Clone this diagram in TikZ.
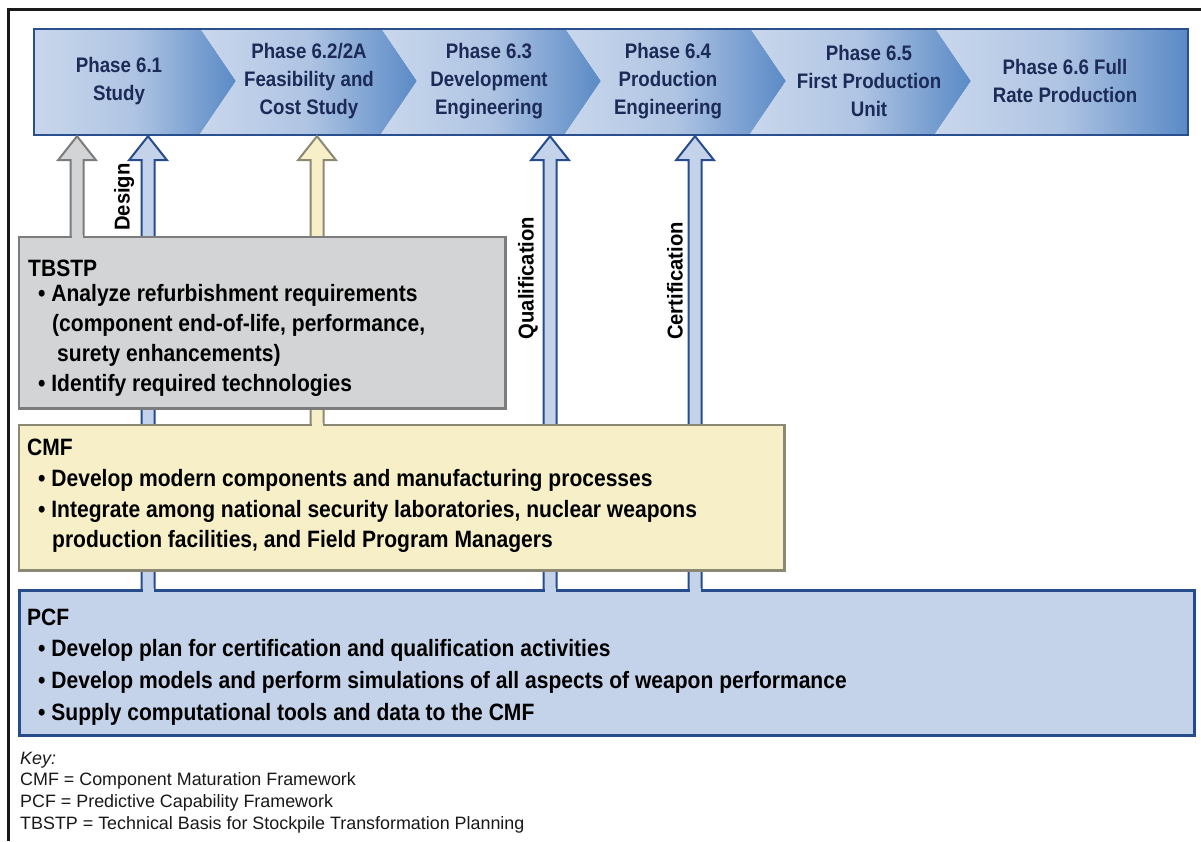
\documentclass[tikz,border=0pt]{standalone}
\usepackage{fontspec}
\setmainfont{Liberation Sans}
\newfontfamily\condf[FakeStretch=0.89]{Liberation Sans}
\newfontfamily\labf[FakeStretch=0.94]{Liberation Sans}
\usetikzlibrary{calc}
\definecolor{cL}{HTML}{C9D7EC}
\definecolor{cM}{HTML}{AFC4E3}
\definecolor{cD}{HTML}{5A8AC6}
\definecolor{barB}{HTML}{2A4F8E}
\definecolor{phT}{HTML}{1C2A57}
\definecolor{blF}{HTML}{C5D3EA}
\definecolor{blD}{HTML}{264C8C}
\definecolor{grF}{HTML}{D3D4D6}
\definecolor{grD}{HTML}{7C7C7C}
\definecolor{yeF}{HTML}{F6EFC7}
\definecolor{yeD}{HTML}{8B8974}
\newcommand\blockarrow[5]{%
 \fill[#4] let \p1=(#1 |- #2), \p2=(#1 |- #3) in
   (\x1-6.5pt,\y2) -- (\x1-6.5pt,\y1-24pt) -- (\x1-19pt,\y1-24pt) -- (\x1,\y1) -- (\x1+19pt,\y1-24pt) -- (\x1+6.5pt,\y1-24pt) -- (\x1+6.5pt,\y2) -- cycle;
 \draw[#5,line width=2pt] let \p1=(#1 |- #2), \p2=(#1 |- #3) in
   (\x1-6.5pt,\y2) -- (\x1-6.5pt,\y1-24pt) -- (\x1-19pt,\y1-24pt) -- (\x1,\y1) -- (\x1+19pt,\y1-24pt) -- (\x1+6.5pt,\y1-24pt) -- (\x1+6.5pt,\y2);
}
\newcommand\shaftpatch[3]{\fill[#3] let \p1=(#1 |- #2) in (\x1-5.5pt,\y1+2pt) rectangle (\x1+5.5pt,\y1-3pt);}
\tikzset{
 chev/.style={left color=cL, right color=cD, middle color=cM, draw=none},
 phase/.style={align=center, inner sep=0pt, text=phT, font=\condf\bfseries\fontsize{21}{28}\selectfont},
 boxnode/.style={anchor=north west, inner sep=0pt, line width=2.5pt},
 bt/.style={anchor=base west, inner sep=0pt, text=black, font=\condf\bfseries\fontsize{23.65}{28}\selectfont},
 lab/.style={rotate=90, inner sep=0pt, text=black, font=\labf\bfseries\fontsize{21.5}{26}\selectfont},
 keyt/.style={anchor=base west, inner sep=0pt, text=black!90, font=\fontsize{17.9}{20}\selectfont},
}
\begin{document}
\begin{tikzpicture}[x=1pt,y=-1pt]
\useasboundingbox (0,0) rectangle (1201,841);
\fill[white] (0,0) rectangle (1201,841);
% outer frame
\draw[line width=3pt, black!90] (8,841) -- (8,9) -- (1201,9);
% phase bar chevrons
\path[chev] (33,28) -- (200,28) -- (236,81) -- (200,134) -- (33,134) -- cycle;
\path[chev] (200,28) -- (381,28) -- (417,81) -- (381,134) -- (200,134) -- (236,81) -- cycle;
\path[chev] (381,28) -- (565,28) -- (601,81) -- (565,134) -- (381,134) -- (417,81) -- cycle;
\path[chev] (565,28) -- (750,28) -- (786,81) -- (750,134) -- (565,134) -- (601,81) -- cycle;
\path[chev] (750,28) -- (935,28) -- (971,81) -- (935,134) -- (750,134) -- (786,81) -- cycle;
\path[chev] (935,28) -- (1187,28) -- (1187,134) -- (935,134) -- (971,81) -- cycle;
\node[draw=barB, line width=2.2pt, inner sep=0pt, minimum width=1154pt, minimum height=106pt, anchor=north west] (bar) at (33,28) {};
\node[phase] (p1) at (119,81) {Phase 6.1\\Study};
\node[phase] (p2) at (309,81) {Phase 6.2/2A\\Feasibility and\\Cost Study};
\node[phase] (p3) at (489,81) {Phase 6.3\\Development\\Engineering};
\node[phase] (p4) at (668,81) {Phase 6.4\\Production\\Engineering};
\node[phase] (p5) at (869,81) {Phase 6.5\\First Production\\Unit};
\node[phase] (p6) at (1065,81) {Phase 6.6 Full\\Rate Production};
% boxes (positions)
\path (19,237) node[boxnode, minimum width=484pt, minimum height=169pt] (tb) {};
\path (19,425) node[boxnode, minimum width=763pt, minimum height=143pt] (cmf) {};
\path (19,590) node[boxnode, minimum width=1173pt, minimum height=143pt] (pcf) {};
% arrow x positions
\coordinate (xg) at (77,0);
\coordinate (xd) at (148,0);
\coordinate (xy) at (317,0);
\coordinate (xq) at (550,0);
\coordinate (xc) at (695,0);
% arrows
\blockarrow{xg}{bar.south}{tb.north}{grF}{grD}
\blockarrow{xd}{bar.south}{pcf.north}{blF}{blD}
\blockarrow{xy}{bar.south}{cmf.north}{yeF}{yeD}
\blockarrow{xq}{bar.south}{pcf.north}{blF}{blD}
\blockarrow{xc}{bar.south}{pcf.north}{blF}{blD}
% boxes drawn
\draw[fill=grF, draw=grD, line width=2.5pt] (tb.north west) rectangle (tb.south east);
\draw[fill=yeF, draw=yeD, line width=2.5pt] (cmf.north west) rectangle (cmf.south east);
\draw[fill=blF, draw=blD, line width=3pt] (pcf.north west) rectangle (pcf.south east);
\shaftpatch{xg}{tb.north}{grF}
\shaftpatch{xy}{cmf.north}{yeF}
\shaftpatch{xd}{pcf.north}{blF}
\shaftpatch{xq}{pcf.north}{blF}
\shaftpatch{xc}{pcf.north}{blF}
% labels
\node[lab] (ld) at (124,197) {Design};
\node[lab] (lq) at (528,278) {Qualification};
\node[lab] (lc) at (675,281) {Certification};
% TBSTP text
\node[bt] (t0) at (28,276) {TBSTP};
\node[bt] (t1) at (38,301) {• Analyze refurbishment requirements};
\node[bt] (t2) at (52,331) {(component end-of-life, performance,};
\node[bt] (t3) at (57,361) {surety enhancements)};
\node[bt] (t4) at (38,391) {• Identify required technologies};
% CMF text
\node[bt] (c0) at (27,455) {CMF};
\node[bt] (c1) at (38,486) {• Develop modern components and manufacturing processes};
\node[bt] (c2) at (38,517) {• Integrate among national security laboratories, nuclear weapons};
\node[bt] (c3) at (52,547) {production facilities, and Field Program Managers};
% PCF text
\node[bt] (q0) at (27,625) {PCF};
\node[bt] (q1) at (38,656) {• Develop plan for certification and qualification activities};
\node[bt] (q2) at (38,688) {• Develop models and perform simulations of all aspects of weapon performance};
\node[bt] (q3) at (38,720) {• Supply computational tools and data to the CMF};
% key
\node[keyt] (k0) at (20,764) {\itshape Key:};
\node[keyt] (k1) at (20,785) {CMF = Component Maturation Framework};
\node[keyt] (k2) at (20,807) {PCF = Predictive Capability Framework};
\node[keyt] (k3) at (20,829) {TBSTP = Technical Basis for Stockpile Transformation Planning};
\end{tikzpicture}
\end{document}
